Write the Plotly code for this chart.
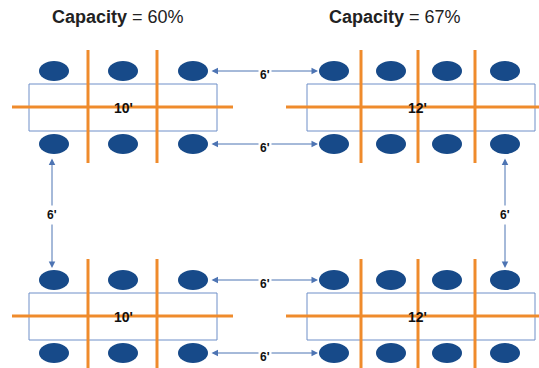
import plotly.graph_objects as go

# layout data (pixel-like diagram units, y grows downward)
titles = ["Capacity = 60%", "Capacity = 67%"]
title_x = [118, 395]
table_labels = ["10'", "12'"]
table_left = [29, 307]
table_right = [217, 535]
label_x = [123, 417]
seat_x = [[54, 123, 193], [334, 391, 447, 505]]
divider_x = [[88, 157], [361, 418, 475]]
cross_left = [12, 286]
cross_right = [233, 545]
block_top = [0, 209]  # vertical offset of each row of tables
seat_rows = [71, 144]
gap_label = "6'"
h_gap_x = [210, 318]
v_gap_x = [52, 505]
v_gap_y = [157, 268]

SEAT = "#174a89"
ORANGE = "#ef8b2c"
RECT = "#6f8fc8"
ARROW = "#4d74b3"
FONT = "Liberation Sans, Arial, sans-serif"

fig = go.Figure()
shapes = []
annotations = []

for off in block_top:
    for t in range(2):
        # table outline
        shapes.append(dict(type="rect", x0=table_left[t], x1=table_right[t],
                           y0=84 + off, y1=131 + off,
                           line=dict(color=RECT, width=1), layer="below"))
        # orange cross lines
        shapes.append(dict(type="line", x0=cross_left[t], x1=cross_right[t],
                           y0=107 + off, y1=107 + off,
                           line=dict(color=ORANGE, width=3)))
        for dx in divider_x[t]:
            shapes.append(dict(type="line", x0=dx, x1=dx, y0=50 + off, y1=163 + off,
                               line=dict(color=ORANGE, width=3)))
        # seats
        for sy in seat_rows:
            for sx in seat_x[t]:
                shapes.append(dict(type="circle", x0=sx - 15, x1=sx + 15,
                                   y0=sy + off - 10, y1=sy + off + 10,
                                   fillcolor=SEAT, line=dict(color=SEAT, width=0)))
        annotations.append(dict(x=label_x[t], y=108 + off,
                                text="<b>%s</b>" % table_labels[t],
                                showarrow=False, font=dict(size=14, color="#111", family=FONT)))
    # horizontal 6' gaps
    for sy in seat_rows:
        y = sy + off
        annotations.append(dict(x=h_gap_x[1], y=y, ax=h_gap_x[0], ay=y,
                                xref="x", yref="y", axref="x", ayref="y", text="",
                                showarrow=True, arrowhead=2, arrowside="end+start",
                                arrowsize=1.3, arrowwidth=1, arrowcolor=ARROW))
        annotations.append(dict(x=(h_gap_x[0] + h_gap_x[1]) / 2 + 1, y=y + 4,
                                text="<b>%s</b>" % gap_label, showarrow=False,
                                bgcolor="white", borderpad=1,
                                font=dict(size=12, color="#111", family=FONT)))

# vertical 6' gaps
for vx in v_gap_x:
    annotations.append(dict(x=vx, y=v_gap_y[1], ax=vx, ay=v_gap_y[0],
                            xref="x", yref="y", axref="x", ayref="y", text="",
                            showarrow=True, arrowhead=2, arrowside="end+start",
                            arrowsize=1.3, arrowwidth=1, arrowcolor=ARROW))
    annotations.append(dict(x=vx, y=(v_gap_y[0] + v_gap_y[1]) / 2 + 2,
                            text="<b>%s</b>" % gap_label, showarrow=False,
                            bgcolor="white", borderpad=2,
                            font=dict(size=12, color="#111", family=FONT)))

for tx, tt in zip(title_x, titles):
    name, val = tt.split(" = ")
    annotations.append(dict(x=tx, y=17, text="<b>%s</b> = %s" % (name, val),
                            showarrow=False, font=dict(size=18, color="#222", family=FONT)))

fig.update_layout(
    width=539, height=368,
    margin=dict(l=0, r=0, t=0, b=0),
    paper_bgcolor="white", plot_bgcolor="white",
    xaxis=dict(range=[0, 539], visible=False, fixedrange=True),
    yaxis=dict(range=[368, 0], visible=False, fixedrange=True),
    shapes=shapes, annotations=annotations,
    showlegend=False,
)
fig.write_html("out.html", config={"displayModeBar": False},
               post_script="document.body.style.margin='0px';")
